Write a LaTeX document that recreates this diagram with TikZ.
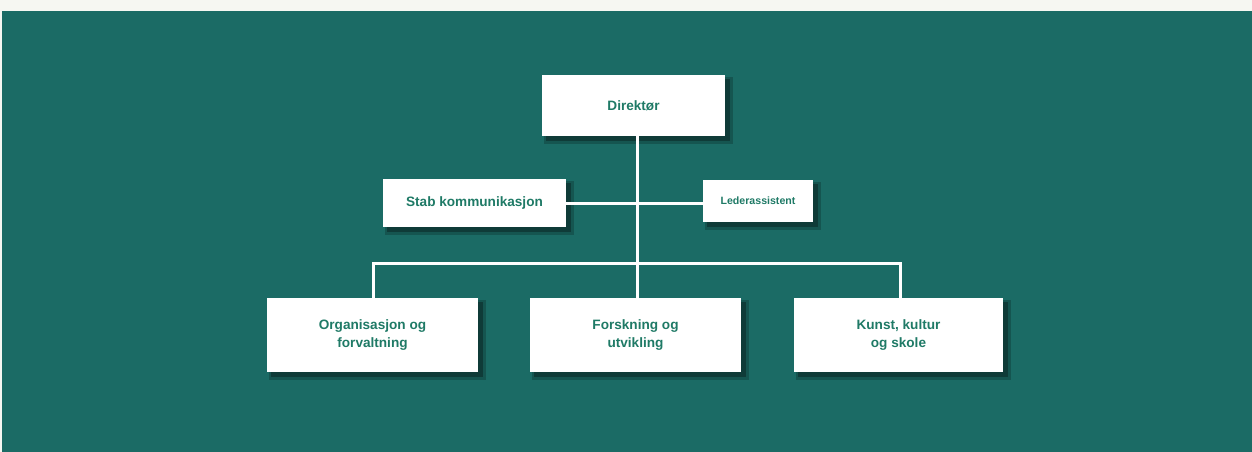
\documentclass[tikz,border=0pt]{standalone}
\usepackage{fontspec}
\setmainfont{Liberation Sans}
\definecolor{bgteal}{HTML}{1B6B65}
\definecolor{offwhite}{HTML}{F6F7F2}
\definecolor{txtgreen}{HTML}{1F7A66}
\definecolor{shadowc}{HTML}{0E3532}
\tikzset{
  box/.style={draw=none, fill=white, text=txtgreen, font=\bfseries\fontsize{13.6}{18}\selectfont, align=center, inner sep=0pt},
  link/.style={draw=white, line width=3pt}
}
\begin{document}
\begin{tikzpicture}[x=1pt,y=-1pt]
\useasboundingbox (0,0) rectangle (1252,452);
\fill[offwhite] (0,0) rectangle (1252,452);
\fill[bgteal] (2,11) rectangle (1252,452);
% shadows
\foreach \a/\b/\c/\d in {542/75/725/136, 383/179/566/227, 703/180/813/222, 267/298/478/372, 530/298/741/372, 794/298/1003/372}{
  \fill[shadowc, opacity=0.4] (\a+2,\b+2) rectangle (\c+8,\d+8);
  \fill[shadowc, opacity=0.8] (\a+4,\b+4) rectangle (\c+5,\d+5);
}
\coordinate (hub) at (637,203);
\coordinate (busL) at (373,263);
\coordinate (busM) at (637,263);
\coordinate (busR) at (900,263);
% nodes
\node[box, minimum width=183pt, minimum height=61pt] (dir) at (633.5,105.5) {Direktør};
\node[box, minimum width=183pt, minimum height=48pt] (stab) at (474.5,203) {Stab kommunikasjon};
\node[box, minimum width=110pt, minimum height=42pt, font=\bfseries\fontsize{10.6}{12}\selectfont] (led) at (758,201) {Lederassistent};
\node[box, minimum width=211pt, minimum height=74pt] (org) at (372.5,335) {Organisasjon og\\forvaltning};
\node[box, minimum width=211pt, minimum height=74pt] (fou) at (635.5,335) {Forskning og\\utvikling};
\node[box, minimum width=209pt, minimum height=74pt] (kun) at (898.5,335) {Kunst, kultur\\og skole};
% connectors
\draw[link] (dir.south -| hub) -- (busM);
\draw[link] (stab.east) -- (led.west |- stab.east);
\draw[link, line cap=rect] (busL) -- (busR);
\draw[link] (busL) -- (busL |- org.north);
\draw[link] (busM) -- (busM |- fou.north);
\draw[link] (busR) -- (busR |- kun.north);
\end{tikzpicture}
\end{document}
